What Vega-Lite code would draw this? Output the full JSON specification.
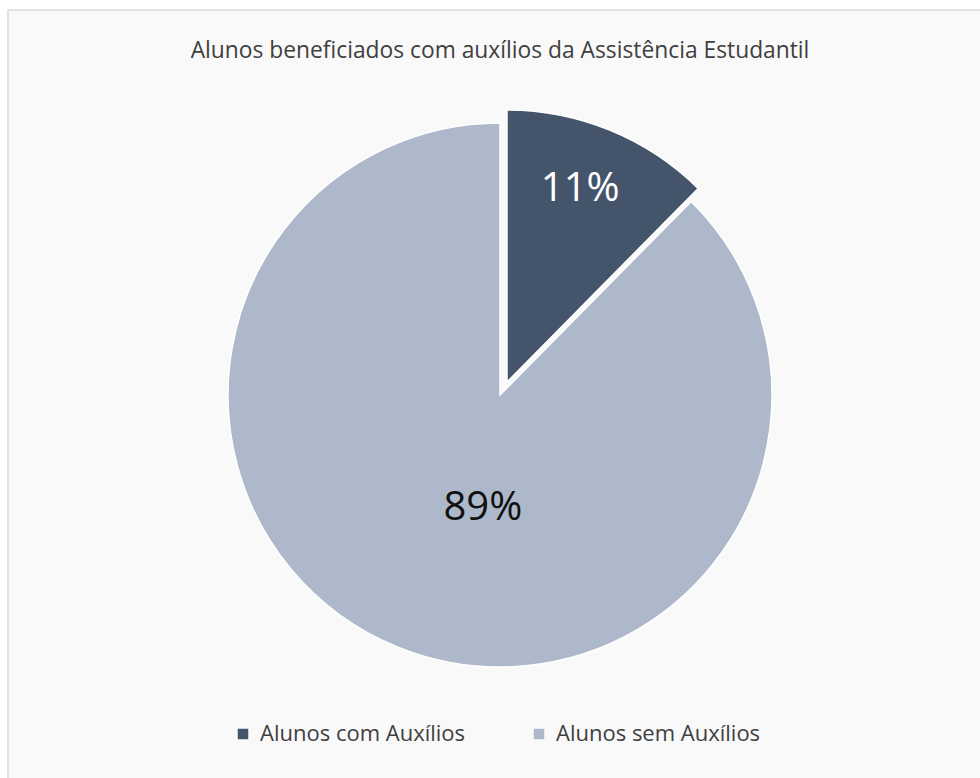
{
  "$schema": "https://vega.github.io/schema/vega-lite/v6.json",
  "width": 984,
  "height": 770,
  "autosize": {"type": "none"},
  "padding": {"left": 8, "top": 10, "right": 0, "bottom": 0},
  "background": "#ffffff",
  "view": {"fill": "#f9f9f9", "stroke": "#d9d9d9", "strokeWidth": 1.5},
  "config": {
    "font": "Open Sans"
  },
  "title": {
    "text": "Alunos beneficiados com auxílios da Assistência Estudantil",
    "anchor": "middle",
    "frame": "group",
    "orient": "top",
    "offset": -48,
    "dy": 23,
    "baseline": "alphabetic",
    "font": "Open Sans",
    "fontSize": 22.8,
    "fontWeight": "normal",
    "color": "#404040"
  },
  "data": {
    "values": [
      {"cat": "Alunos com Auxílios", "value": 12.4, "label": "11%"},
      {"cat": "Alunos sem Auxílios", "value": 87.6, "label": "89%"}
    ]
  },
  "encoding": {
    "theta": {"field": "value", "type": "quantitative", "stack": true},
    "order": {"field": "cat", "type": "nominal"}
  },
  "layer": [
    {
      "mark": {"type": "arc", "outerRadius": 272, "stroke": "#ffffff", "strokeWidth": 1.5},
      "encoding": {
        "color": {
          "field": "cat",
          "type": "nominal",
          "scale": {"domain": ["Alunos com Auxílios", "Alunos sem Auxílios"], "range": ["#44546a", "#adb9ca"]},
          "legend": {
            "title": null,
            "orient": "none",
            "direction": "horizontal",
            "legendX": 224,
            "legendY": 713,
            "symbolType": "square",
            "symbolSize": 110,
            "symbolStrokeWidth": 0,
            "symbolOpacity": 1,
            "labelFont": "Open Sans",
            "labelFontSize": 22,
            "labelColor": "#404040",
            "labelLimit": 400,
            "labelOffset": 6,
            "columnPadding": 62,
            "padding": 0
          }
        },
        "opacity": {"condition": {"test": "datum.cat === 'Alunos com Auxílios'", "value": 0}, "value": 1}
      }
    },
    {
      "mark": {"type": "arc", "outerRadius": 272, "stroke": "#ffffff", "strokeWidth": 1.5, "xOffset": 7, "yOffset": -13},
      "encoding": {
        "color": {"field": "cat", "type": "nominal"},
        "opacity": {"condition": {"test": "datum.cat === 'Alunos com Auxílios'", "value": 1}, "value": 0}
      }
    },
    {
      "mark": {"type": "text", "radius": 206, "xOffset": 2, "yOffset": -15, "fontSize": 40, "font": "Open Sans", "color": "#ffffff", "align": "center", "baseline": "middle"},
      "encoding": {
        "detail": {"field": "cat", "type": "nominal"},
        "text": {"field": "label"},
        "opacity": {"condition": {"test": "datum.cat === 'Alunos com Auxílios'", "value": 1}, "value": 0}
      }
    },
    {
      "mark": {"type": "text", "radius": 111, "xOffset": 25, "yOffset": 10, "fontSize": 40, "font": "Open Sans", "color": "#111111", "align": "center", "baseline": "middle"},
      "encoding": {
        "detail": {"field": "cat", "type": "nominal"},
        "text": {"field": "label"},
        "opacity": {"condition": {"test": "datum.cat === 'Alunos sem Auxílios'", "value": 1}, "value": 0}
      }
    }
  ]
}
